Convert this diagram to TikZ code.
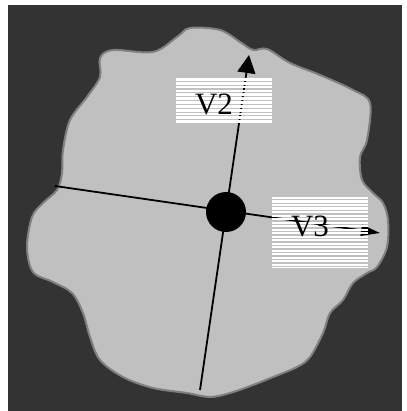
\documentclass[tikz,border=0pt]{standalone}
\usepackage{fontspec}
\setmainfont{Liberation Serif}
\usetikzlibrary{arrows.meta}
\definecolor{backdark}{HTML}{333333}
\definecolor{blobfill}{HTML}{C0C0C0}
\definecolor{blobedge}{HTML}{808080}
\tikzset{
  axis/.style={line width=1.8pt, black},
  labeltext/.style={font=\fontsize{31}{33}\selectfont, inner sep=0pt, text=black},
}
% striped white label panel: #1,#2 = top-left, #3,#4 = bottom-right, #5 = stripe pitch
\newcommand{\stripedpanel}[5]{%
  \pgfmathtruncatemacro{\nstripes}{((#4)-(#2))/(#5)}%
  \foreach \k in {0,...,\nstripes}{%
    \pgfmathsetmacro{\ya}{(#2)+\k*(#5)}%
    \pgfmathsetmacro{\yb}{min((#2)+\k*(#5)+(#5)-1.1,(#4))}%
    \fill[white] (#1,\ya) rectangle (#3,\yb);
  }%
}
\begin{document}
\begin{tikzpicture}[x=1pt,y=-1pt]
\useasboundingbox (0,0) rectangle (406,411);
\fill[backdark] (8,5) rectangle (402,411);

% the grey body
\draw[blobedge, line width=2pt, fill=blobfill]
  plot[smooth cycle, tension=0.55] coordinates {
    (113,50) (153,52) (177,37) (190,28) (220,30) (240,42) (253,50) (267,49)
    (290,63) (320,75) (353,90) (370,103) (367,140) (360,157) (362,180)
    (373,193) (383,203) (388,220) (387,247) (377,267) (367,273) (353,283)
    (343,300) (330,313) (323,333) (310,357) (297,367) (273,377) (253,385)
    (230,393) (210,397) (187,393) (153,388) (123,377) (100,360) (90,337)
    (83,313) (72,293) (53,282) (33,272) (27,247) (32,217) (43,203) (57,190)
    (62,173) (63,150) (70,120) (87,97) (100,77) (100,58)};

% axis end points
\coordinate (v2tail) at (200,390);
\coordinate (v2tip)  at (249,55);
\coordinate (v3tail) at (55,186);
\coordinate (v3tip)  at (380,233);

\draw[axis, -{Triangle[length=18pt,width=18pt]}] (v2tail) -- (v2tip);
\draw[axis, -{Triangle[length=19pt,width=11pt]}] (v3tail) -- (v3tip);

\node[circle, fill=black, minimum size=40pt, inner sep=0pt] (c) at (226,212) {};

% label panels
\stripedpanel{176}{78}{272}{124}{3.85}
\stripedpanel{272}{197}{368}{268}{3.5}

\node[labeltext] (v2) at (214,104) {V2};
\node[labeltext] (v3) at (310,226) {V3};
\end{tikzpicture}
\end{document}
